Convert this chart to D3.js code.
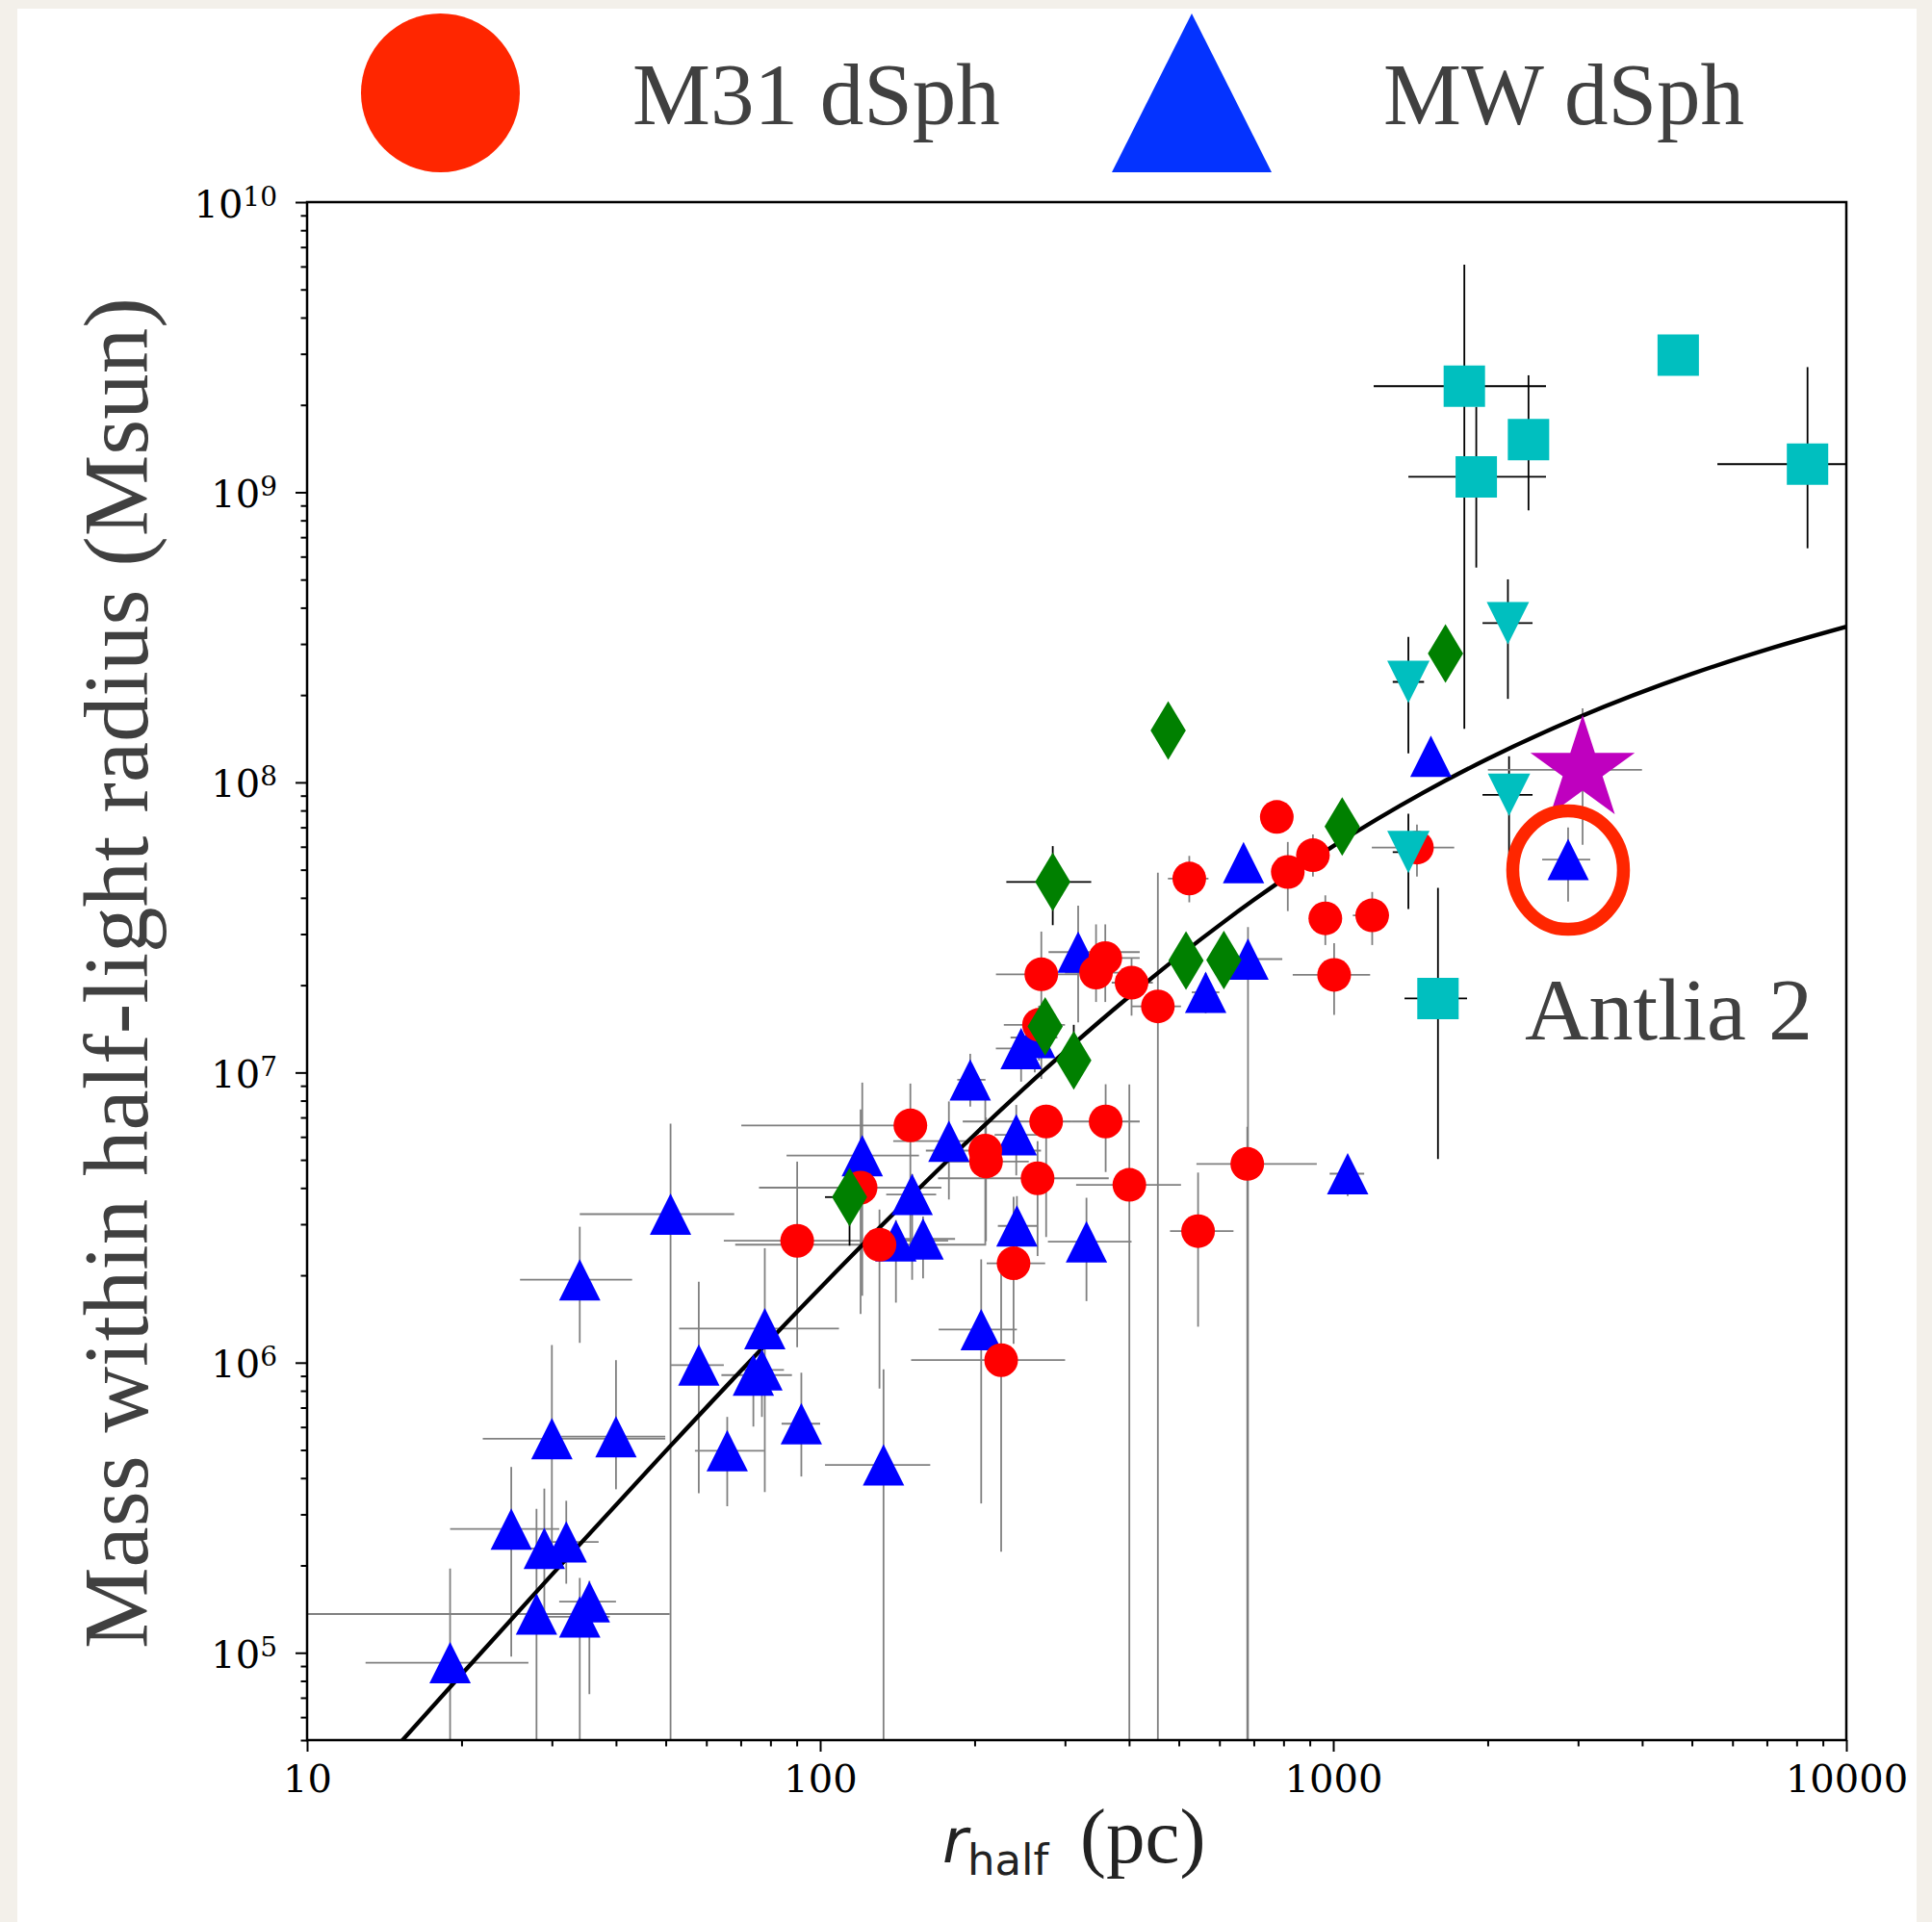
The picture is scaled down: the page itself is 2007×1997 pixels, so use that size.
<!DOCTYPE html>
<html><head><meta charset="utf-8">
<script src="https://cdn.jsdelivr.net/npm/d3@7"></script>
<style>body{margin:0;background:#f3f0ea;} svg{display:block}</style>
</head><body><svg id="c" width="2007" height="1997"></svg>
<script>
// ---------------- DATA (r_half in pc, mass in Msun) ----------------
// rows: [r, M, rLow, rHigh, MLow, MHigh]  (null = no error bar)
const mwDsph = [
  [19.0, 9.24e4, 13.0, 27.0, 1e3, 1.95e5],
  [25.0, 2.67e5, 19.0, 31.0, 9.7e4, 4.37e5],
  [28.0, 1.36e5, 2, 50.9, 1e3, 3.13e5],
  [29.0, 2.29e5, 26.9, 31.3, 1.33e5, 3.68e5],
  [32.0, 2.41e5, 29.4, 37.0, 1.73e5, 3.34e5],
  [34.0, 1.33e5, 29.4, 38.9, 1e3, 1.81e5],
  [35.5, 1.50e5, 31.0, 40.0, 7.2e4, 1.77e5],
  [30.0, 5.47e5, 22.0, 49.9, 2.22e5, 1.15e6],
  [40.0, 5.56e5, 31.3, 49.9, 3.66e5, 1.02e6],
  [34.0, 1.93e6, 26.0, 43.0, 1.17e6, 2.94e6],
  [51.1, 3.25e6, 34.0, 68.0, 1e3, 6.66e6],
  [58.0, 9.81e5, 51.1, 64.9, 3.55e5, 1.90e6],
  [78.0, 1.31e6, 53.1, 108.8, 3.58e5, 2.48e6],
  [74.1, 9.06e5, 64.2, 88.1, 6.02e5, 1.04e6],
  [77.0, 9.44e5, 70.0, 85.0, 6.5e5, 1.2e6],
  [65.9, 4.97e5, 57.0, 77.8, 3.2e5, 6.5e5],
  [91.9, 6.16e5, 84.1, 100, 4.05e5, 9.23e5],
  [132.9, 4.44e5, 102.2, 163.9, 1e3, 9.48e5],
  [120.8, 5.17e6, 86.0, 155.8, 1.70e6, 9.23e6],
  [151.1, 3.80e6, 134.5, 168.3, 1.93e6, 4.47e6],
  [140.5, 2.63e6, 120, 165, 1.61e6, 3.10e6],
  [158.7, 2.67e6, 134.9, 183.2, 1.95e6, 3.19e6],
  [178.2, 5.80e6, 138.8, 194.9, 3.65e6, 7.95e6],
  [196.1, 9.44e6, 185, 210, 7.63e6, 1.16e7],
  [241.1, 6.10e6, 218.8, 280.1, 4.42e6, 7.73e6],
  [241.8, 2.96e6, 222, 265.3, 1.93e6, 3.75e6],
  [206.0, 1.30e6, 170.2, 241.8, 3.27e5, 2.27e6],
  [330.4, 2.61e6, 277.9, 404.5, 1.63e6, 3.70e6],
  [318.3, 2.60e7, 278.7, 419.5, 1.49e7, 3.76e7],
  [246.4, 1.21e7, 220, 270, 9.3e6, 1.3e7],
  [262, 1.32e7, 235, 290, 1.0e7, 1.6e7],
  [564.1, 1.89e7, 530, 600, 1.6e7, 2.2e7],
  [682.1, 2.46e7, 631.6, 795.6, 1e3, 3.17e7],
  [668.6, 5.29e7, null, null, null, null],
  [1067, 4.48e6, 984, 1149, 3.75e6, 4.80e6],
  [1550, 1.23e8, null, null, null, null],
  [2869, 5.42e7, 2554, 3169, 3.88e7, 6.99e7]   // Antlia 2
];
const m31Dsph = [
  [90.2, 2.63e6, 64.9, 177.6, 1.13e6, 4.93e6],
  [119.9, 4.01e6, 76.0, 172.3, 1.47e6, 7.46e6],
  [130.5, 2.55e6, 68.3, 210.6, 8.14e5, 3.37e6],
  [149.9, 6.57e6, 70.2, 157, 2.56e6, 9.16e6],
  [209.8, 5.38e6, 160.7, 269.4, 2.56e6, 8.06e6],
  [210.5, 4.93e6, 175, 255, 2.62e6, 7.0e6],
  [225.3, 1.02e6, 150.4, 300.2, 2.23e5, 2.06e6],
  [238.2, 2.20e6, 211.1, 274.5, 1.16e6, 3.73e6],
  [265.3, 4.32e6, 169.7, 365.1, 2.33e6, 5.8e6],
  [275.7, 6.78e6, 189.6, 310.1, 2.71e6, 7.74e6],
  [360.1, 6.78e6, 310.1, 419.6, 4.54e6, 9.11e6],
  [400.5, 4.10e6, 315.4, 505, 1e3, 9.1e6],
  [545.2, 2.84e6, 480.7, 639.1, 1.33e6, 4.52e6],
  [679.9, 4.84e6, 541.2, 928.9, 1e3, 6.5e6],
  [267, 1.46e7, 228, 300, 1.1e7, 1.7e7],
  [269.8, 2.18e7, 220.1, 320, 9.5e6, 3.06e7],
  [344.9, 2.21e7, 300, 390, 1.75e7, 3.24e7],
  [359.5, 2.48e7, 305.8, 419.5, 1.75e7, 3.24e7],
  [404.5, 2.04e7, 370, 445, 1.57e7, 2.48e7],
  [455.2, 1.69e7, 403.6, 505, 1e3, 4.88e7],
  [524.1, 4.66e7, 476.2, 571.2, 3.86e7, 5.58e7],
  [776.2, 7.60e7, null, null, null, null],
  [815.5, 4.91e7, 760, 870, 3.60e7, 6.23e7],
  [912.9, 5.61e7, 850, 980, 4.74e7, 6.62e7],
  [965.1, 3.40e7, 920, 1010, 2.75e7, 4.08e7],
  [1191, 3.48e7, 1092, 1284, 2.75e7, 4.19e7],
  [1004, 2.17e7, 833.7, 1180, 1.58e7, 2.79e7],
  [1456, 5.96e7, 1189, 1721, 4.74e7, 7.15e7]
];
const greenDiamonds = [
  [114.1, 3.72e6, 102.2, 114.1, 2.53e6, 3.72e6],
  [284, 4.54e7, 230.6, 337.5, 3.22e7, 6.03e7],
  [274.5, 1.44e7, null, null, null, null],
  [312.1, 1.10e7, null, null, 1.10e7, 1.46e7],
  [476.8, 1.51e8, null, null, null, null],
  [516.5, 2.43e7, null, null, null, null],
  [612.1, 2.44e7, null, null, null, null],
  [1041, 7.04e7, null, null, null, null],
  [1655, 2.78e8, null, null, null, null]
];
const cyanSquares = [
  [1801, 2.32e9, 1199, 2598, 1.53e8, 6.09e9],
  [2402, 1.52e9, null, null, 8.66e8, 2.53e9],
  [1900, 1.13e9, 1401, 2598, 5.50e8, 1.97e9],
  [4703, 2.97e9, null, null, null, null],
  [8402, 1.25e9, 5607, 20000, 6.41e8, 2.70e9],
  [1600, 1.80e7, 1377, 1823, 5.03e6, 4.33e7]
];
const cyanDownTriangles = [
  [1401, 2.22e8, 1306, 1503, 1.26e8, 3.17e8],
  [2190, 3.54e8, 1954, 2446, 1.94e8, 5.01e8],
  [2201, 9.06e7, 1954, 2446, 5.55e7, 1.23e8],
  [1401, 5.75e7, 1306, 1503, 3.66e7, 7.79e7]
];
const starPoint = [[3062, 1.105e8, 2002, 3997, 6.09e7, 1.8e8]];
// model curve: [r, M]
const modelCurve = [
  [15, 4.78e4], [20, 8.42e4], [30, 1.858e5], [50, 4.96e5], [100, 1.809e6],
  [150, 3.73e6], [200, 6.106e6], [300, 1.18e7], [400, 1.826e7], [500, 2.514e7],
  [700, 3.932e7], [1000, 6.028e7], [1500, 9.234e7], [2000, 1.205e8],
  [3000, 1.673e8], [5000, 2.366e8], [7000, 2.871e8], [10000, 3.44e8]
];
const xTicks = [10, 100, 1000, 10000];
const yTicks = [1e5, 1e6, 1e7, 1e8, 1e9, 1e10];
const legendLabels = ["M31 dSph", "MW dSph"];
const annotationLabel = "Antlia 2";
const antlia = mwDsph[mwDsph.length - 1];

// ---------------- LAYOUT ----------------
const W = 2007, H = 1997;
const L = 319, R = 1918, T = 210, B = 1808;
const svg = d3.select("#c");
svg.append("rect").attr("width", W).attr("height", H).attr("fill", "#f3f0ea");
svg.append("rect").attr("x", 18).attr("y", 9).attr("width", 1973).attr("height", 1988).attr("fill", "#fff");

const x = d3.scaleLog().domain([10, 10000]).range([L, R]);
const y = d3.scaleLog().domain([5e4, 1e10]).range([B, T]);

svg.append("defs").append("clipPath").attr("id", "clip")
  .append("rect").attr("x", L).attr("y", T).attr("width", R - L).attr("height", B - T);

const plot = svg.append("g").attr("clip-path", "url(#clip)");

// error bars
function drawErr(data, color) {
  const g = plot.append("g").attr("stroke", color).attr("stroke-width", 1.8).attr("fill", "none");
  data.forEach(d => {
    const [r, m, rl, rh, ml, mh] = d;
    if (rl != null) g.append("line").attr("x1", x(rl)).attr("x2", x(rh)).attr("y1", y(m)).attr("y2", y(m));
    if (ml != null) g.append("line").attr("x1", x(r)).attr("x2", x(r)).attr("y1", y(ml)).attr("y2", y(mh));
  });
}
drawErr(mwDsph, "#808080");
drawErr(m31Dsph, "#808080");
drawErr(greenDiamonds, "#000");
drawErr(cyanSquares, "#000");
drawErr(cyanDownTriangles, "#000");
drawErr(starPoint, "#808080");

// model curve
plot.append("path").datum(modelCurve)
  .attr("d", d3.line().x(d => x(d[0])).y(d => y(d[1])).curve(d3.curveMonotoneX))
  .attr("fill", "none").attr("stroke", "#000").attr("stroke-width", 4.3);

// marker shapes
const triUp = s => `M0,${-s}L${s},${s}L${-s},${s}Z`;
const triDown = s => `M0,${s}L${s},${-s}L${-s},${-s}Z`;
const square = s => `M${-s},${-s}H${s}V${s}H${-s}Z`;
const thinDiamond = (w, h) => `M0,${-h}L${w},0L0,${h}L${-w},0Z`;
const star = (Ro) => {
  const ri = Ro * 0.381966; let p = "";
  for (let k = 0; k < 10; k++) {
    const a = -Math.PI / 2 + k * Math.PI / 5, rr = k % 2 ? ri : Ro;
    p += (k ? "L" : "M") + (rr * Math.cos(a)).toFixed(2) + "," + (rr * Math.sin(a)).toFixed(2);
  }
  return p + "Z";
};
function drawMarkers(data, d, color) {
  plot.append("g").selectAll("path").data(data).join("path")
    .attr("d", d).attr("fill", color)
    .attr("transform", p => `translate(${x(p[0])},${y(p[1])})`);
}
drawMarkers(mwDsph, triUp(21.5), "#0000ff");
plot.append("g").selectAll("circle").data(m31Dsph).join("circle")
  .attr("cx", p => x(p[0])).attr("cy", p => y(p[1])).attr("r", 17.5).attr("fill", "#ff0000");
drawMarkers(greenDiamonds, thinDiamond(18.3, 30.5), "#008000");
drawMarkers(cyanSquares, square(21.5), "#00bfbf");
drawMarkers(cyanDownTriangles, triDown(22), "#00bfbf");
drawMarkers(starPoint, star(57), "#bf00bf");

// frame
svg.append("rect").attr("x", L).attr("y", T).attr("width", R - L).attr("height", B - T)
  .attr("fill", "none").attr("stroke", "#000").attr("stroke-width", 2.5);

// axes
const xMinor = [], yMinor = [];
for (let e = 1; e <= 3; e++) for (let k = 2; k <= 9; k++) xMinor.push(k * Math.pow(10, e));
for (let e = 4; e <= 9; e++) for (let k = 2; k <= 9; k++) { const v = k * Math.pow(10, e); if (v >= 5e4) yMinor.push(v); }

function styleAxis(g) {
  g.select(".domain").remove();
  g.selectAll(".tick line").attr("stroke", "#000").attr("stroke-width", 2);
}
const gx = svg.append("g").attr("transform", `translate(0,${B})`)
  .call(d3.axisBottom(x).tickValues(xTicks).tickSize(12).tickPadding(14).tickFormat(d3.format("d")));
styleAxis(gx);
gx.selectAll(".tick text").attr("font-family", "DejaVu Serif").attr("font-size", 40).attr("fill", "#000");
const gxm = svg.append("g").attr("transform", `translate(0,${B})`)
  .call(d3.axisBottom(x).tickValues(xMinor).tickSize(6.5).tickFormat(""));
styleAxis(gxm);

const gy = svg.append("g").attr("transform", `translate(${L},0)`)
  .call(d3.axisLeft(y).tickValues(yTicks).tickSize(12).tickFormat(""));
styleAxis(gy);
gy.selectAll(".tick").each(function (v) {
  const t = d3.select(this).append("text").attr("x", -31).attr("y", 15).attr("text-anchor", "end")
    .attr("font-family", "DejaVu Serif").attr("fill", "#000");
  t.append("tspan").attr("font-size", 40).text("10");
  t.append("tspan").attr("font-size", 28).attr("dy", -12).text(String(Math.round(Math.log10(v))));
});
const gym = svg.append("g").attr("transform", `translate(${L},0)`)
  .call(d3.axisLeft(y).tickValues(yMinor).tickSize(6.5).tickFormat(""));
styleAxis(gym);

// axis labels
const xl = svg.append("text").attr("y", 1935).attr("fill", "#222");
xl.append("tspan").attr("x", 979).attr("font-family", "DejaVu Sans").attr("font-style", "italic").attr("font-size", 64).text("r");
xl.append("tspan").attr("x", 1005).attr("dy", 13).attr("font-family", "DejaVu Sans").attr("font-size", 45).text("half");
xl.append("tspan").attr("x", 1122).attr("dy", -13).attr("font-family", "Liberation Serif").attr("font-size", 81).text("(pc)");

svg.append("text").attr("transform", "translate(153,1011) rotate(-90)").attr("text-anchor", "middle")
  .attr("font-family", "Liberation Serif").attr("font-size", 95).attr("fill", "#404040")
  .text("Mass within half-light radius (Msun)");

// legend overlay
svg.append("circle").attr("cx", 457.5).attr("cy", 96.5).attr("r", 82.5).attr("fill", "#ff2600");
svg.append("path").attr("d", "M1238,14L1321,179L1155,179Z").attr("fill", "#0433ff");
svg.append("text").attr("x", 657).attr("y", 129).attr("font-family", "Liberation Serif").attr("font-size", 91)
  .attr("fill", "#404040").text(legendLabels[0]);
svg.append("text").attr("x", 1437).attr("y", 129).attr("font-family", "Liberation Serif").attr("font-size", 91)
  .attr("fill", "#404040").text(legendLabels[1]);

// Antlia 2 annotation
svg.append("ellipse").attr("cx", x(antlia[0])).attr("cy", y(antlia[1]) + 11).attr("rx", 57.5).attr("ry", 61.5)
  .attr("fill", "none").attr("stroke", "#ff2600").attr("stroke-width", 13.5);
svg.append("text").attr("x", 1584).attr("y", 1080).attr("font-family", "Liberation Serif").attr("font-size", 92)
  .attr("fill", "#404040").text(annotationLabel);
</script>
</body></html>
